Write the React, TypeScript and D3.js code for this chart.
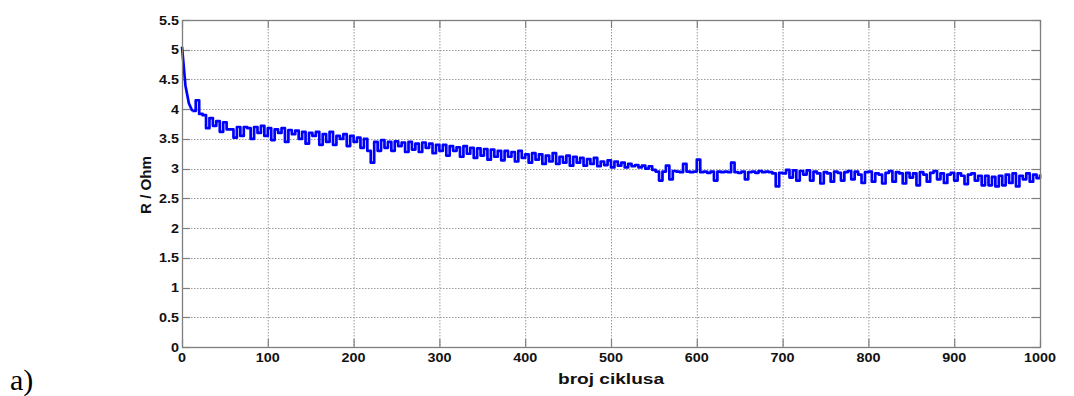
import React from "react";
import * as d3 from "d3";

const xTicks = [0, 100, 200, 300, 400, 500, 600, 700, 800, 900, 1000];
const yTicks = [0, 0.5, 1, 1.5, 2, 2.5, 3, 3.5, 4, 4.5, 5, 5.5];
const yTickLabels = ["0", "0.5", "1", "1.5", "2", "2.5", "3", "3.5", "4", "4.5", "5", "5.5"];
const xLabel = "broj ciklusa";
const yLabel = "R / Ohm";
const panelLabel = "a)";
const cycleStep = 4;
const resistance = [
  5.05, 4.4, 4.1, 3.97, 4.15, 3.92, 3.9, 3.68, 3.85, 3.72,
  3.8, 3.62, 3.78, 3.66, 3.66, 3.52, 3.7, 3.55, 3.7, 3.68,
  3.5, 3.7, 3.6, 3.72, 3.55, 3.68, 3.48, 3.66, 3.6, 3.68,
  3.45, 3.65, 3.58, 3.64, 3.5, 3.62, 3.42, 3.6, 3.55, 3.62,
  3.4, 3.58, 3.45, 3.62, 3.4, 3.55, 3.5, 3.58, 3.38, 3.55,
  3.45, 3.52, 3.35, 3.5, 3.3, 3.1, 3.45, 3.3, 3.48, 3.35,
  3.45, 3.3, 3.46, 3.38, 3.44, 3.28, 3.45, 3.32, 3.42, 3.28,
  3.44, 3.35, 3.42, 3.26, 3.4, 3.3, 3.4, 3.22, 3.38, 3.3,
  3.36, 3.2, 3.38, 3.25, 3.35, 3.18, 3.34, 3.22, 3.33, 3.15,
  3.32, 3.2, 3.3, 3.14, 3.3, 3.2, 3.28, 3.12, 3.3, 3.18,
  3.24, 3.1, 3.26, 3.15, 3.24, 3.08, 3.22, 3.12, 3.26, 3.08,
  3.2, 3.1, 3.22, 3.05, 3.2, 3.1, 3.18, 3.05, 3.16, 3.08,
  3.18, 3.04, 3.12, 3.06, 3.14, 3.02, 3.12, 3.05, 3.1, 3.02,
  3.08, 3.04, 3.06, 3.02, 3.05, 3.0, 3.04, 2.98, 2.95, 2.8,
  2.95, 3.05, 2.82, 2.96, 2.95, 2.94, 3.08, 2.95, 2.94, 2.95,
  3.15, 2.94, 2.95, 2.93, 2.95, 2.8, 2.95, 2.94, 2.95, 2.94,
  3.1, 2.94, 2.93, 2.95, 2.82, 2.94, 2.95, 2.93, 2.96, 2.94,
  2.95, 2.94, 2.92, 2.7, 2.93, 2.92, 2.98, 2.85, 2.97, 2.8,
  2.96, 2.9, 2.97, 2.8, 2.95, 2.92, 2.75, 2.94, 2.92, 2.78,
  2.95, 2.93, 2.8, 2.94, 2.96, 2.82, 2.95, 2.9, 2.76, 2.94,
  2.95, 2.78, 2.92, 2.9, 2.75, 2.93, 2.96, 2.78, 2.94, 2.92,
  2.75, 2.93, 2.85, 2.92, 2.72, 2.94, 2.9, 2.78, 2.93, 2.96,
  2.82, 2.92, 2.76, 2.9, 2.93, 2.8, 2.92, 2.88, 2.74, 2.9,
  2.92, 2.8, 2.88, 2.72, 2.88, 2.72, 2.86, 2.7, 2.88, 2.72,
  2.9, 2.76, 2.92, 2.7, 2.88, 2.82, 2.92, 2.78, 2.9, 2.84,
  2.9,
];

const W = 1074;
const H = 396;
const M = { left: 182, right: 1040, top: 20, bottom: 347 };
const FONT = "'Liberation Sans', Arial, sans-serif";
const STRETCH = 1.15;
const TICK = 8;

export default function App() {
  const x = d3.scaleLinear().domain([0, 1000]).range([M.left, M.right]);
  const y = d3.scaleLinear().domain([0, 5.5]).range([M.bottom, M.top]);
  const head = d3
    .line<number>()
    .x((_, i) => x(i * cycleStep))
    .y((d) => y(d));
  const line = d3
    .line<number>()
    .x((_, i) => x((i + 3) * cycleStep))
    .y((d) => y(d))
    .curve(d3.curveStepAfter);

  const gridColor = "#9a9a9a";
  const axisColor = "#7f7f7f";

  return (
    <svg
      width={W}
      height={H}
      style={{ position: "absolute", left: 0, top: 0, background: "#fff" }}
    >
      <rect x={0} y={0} width={W} height={H} fill="#fff" />
      {/* grid */}
      <g stroke={gridColor} strokeWidth={1} strokeDasharray="1.5,1.5" fill="none">
        {xTicks.slice(1, -1).map((t) => (
          <line key={"gx" + t} x1={x(t) + 0.5} x2={x(t) + 0.5} y1={M.top} y2={M.bottom} />
        ))}
        {yTicks.slice(1, -1).map((t) => (
          <line key={"gy" + t} x1={M.left} x2={M.right} y1={Math.round(y(t)) + 0.5} y2={Math.round(y(t)) + 0.5} />
        ))}
      </g>
      {/* ticks */}
      <g stroke={axisColor} strokeWidth={1.2}>
        {xTicks.map((t) => (
          <g key={"tx" + t}>
            <line x1={x(t) + 0.5} x2={x(t) + 0.5} y1={M.bottom} y2={M.bottom - TICK} />
            <line x1={x(t) + 0.5} x2={x(t) + 0.5} y1={M.top} y2={M.top + TICK} />
          </g>
        ))}
        {yTicks.map((t) => (
          <g key={"ty" + t}>
            <line x1={M.left} x2={M.left + TICK} y1={Math.round(y(t)) + 0.5} y2={Math.round(y(t)) + 0.5} />
            <line x1={M.right} x2={M.right - TICK} y1={Math.round(y(t)) + 0.5} y2={Math.round(y(t)) + 0.5} />
          </g>
        ))}
      </g>
      {/* data: smooth initial decay, then step-like noisy measurements */}
      <path
        d={head(resistance.slice(0, 4)) || ""}
        fill="none"
        stroke="#0000ff"
        strokeWidth={2.7}
        strokeLinejoin="round"
      />
      <path
        d={line(resistance.slice(3)) || ""}
        fill="none"
        stroke="#0000ff"
        strokeWidth={2.7}
        strokeLinejoin="round"
      />
      {/* box */}
      <rect
        x={M.left + 0.5}
        y={M.top + 0.5}
        width={M.right - M.left}
        height={M.bottom - M.top}
        fill="none"
        stroke={axisColor}
        strokeWidth={1.3}
      />
      {/* tick labels */}
      <g fontFamily={FONT} fontWeight="bold" fontSize={12.5} fill="#111">
        {yTicks.map((t, i) => (
          <g key={"ly" + t} transform={`translate(${M.left - 3},${y(t) + 4.5}) scale(${STRETCH},1)`}>
            <text textAnchor="end">{yTickLabels[i]}</text>
          </g>
        ))}
        {xTicks.map((t) => (
          <g key={"lx" + t} transform={`translate(${x(t)},${M.bottom + 15}) scale(${STRETCH},1)`}>
            <text textAnchor="middle">{String(t)}</text>
          </g>
        ))}
      </g>
      {/* axis labels */}
      <text
        x={611}
        y={384}
        textAnchor="middle"
        fontFamily={FONT}
        fontWeight="bold"
        fontSize={14}
        fill="#111"
        textLength={106}
        lengthAdjust="spacingAndGlyphs"
      >
        {xLabel}
      </text>
      <text
        transform={`translate(151,185) rotate(-90)`}
        textAnchor="middle"
        fontFamily={FONT}
        fontWeight="bold"
        fontSize={14}
        fill="#111"
        textLength={58}
        lengthAdjust="spacingAndGlyphs"
      >
        {yLabel}
      </text>
      <text x={10} y={390} fontFamily="'Liberation Serif', 'Times New Roman', serif" fontSize={30} fill="#000">
        {panelLabel}
      </text>
    </svg>
  );
}
